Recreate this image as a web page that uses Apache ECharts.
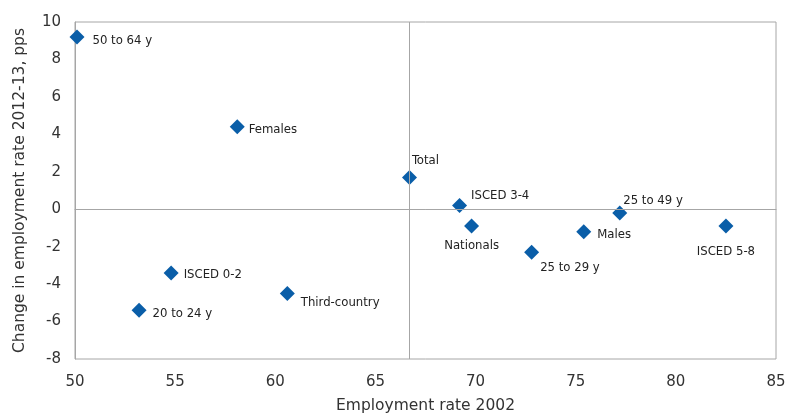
<!DOCTYPE html>
<html>
<head>
<meta charset="utf-8">
<script src="https://cdn.jsdelivr.net/npm/echarts@6/dist/echarts.min.js"></script>
<style>
  html, body { margin: 0; padding: 0; background: #fff; }
  #main { width: 787px; height: 414px; }
</style>
</head>
<body>
<div id="main"></div>
<script>
// groups and their values
var names = ['50 to 64 y', 'Females', 'Total', 'ISCED 3-4', 'Nationals', '25 to 29 y',
             'Males', '25 to 49 y', 'ISCED 5-8', 'ISCED 0-2', '20 to 24 y', 'Third-country'];
var rate2002 = [50.1, 58.1, 66.7, 69.2, 69.8, 72.8, 75.4, 77.2, 82.5, 54.8, 53.2, 60.6];
var change = [9.2, 4.4, 1.7, 0.2, -0.9, -2.3, -1.2, -0.2, -0.9, -3.4, -5.4, -4.5];
var xTicks = [50, 55, 60, 65, 70, 75, 80, 85];
var yTicks = [-8, -6, -4, -2, 0, 2, 4, 6, 8, 10];
var crossX = 66.7;
var crossY = 0;

// where each label sits relative to its marker
var labelPlace = {
  '50 to 64 y': { position: 'right', offset: [3, 4] },
  'Females': { position: 'right', offset: [-1, 3] },
  'Total': { position: 'top', offset: [16, 2] },
  'ISCED 3-4': { position: 'right', offset: [-1, -10] },
  'Nationals': { position: 'bottom', offset: [0, 1] },
  '25 to 29 y': { position: 'right', offset: [-4, 15] },
  'Males': { position: 'right', offset: [1, 3] },
  '25 to 49 y': { position: 'right', offset: [-9, -12] },
  'ISCED 5-8': { position: 'bottom', offset: [0, 7] },
  'ISCED 0-2': { position: 'right', offset: [0, 2] },
  '20 to 24 y': { position: 'right', offset: [1, 3] },
  'Third-country': { position: 'right', offset: [1, 9] }
};

var points = names.map(function (n, i) {
  return {
    name: n,
    value: [rate2002[i], change[i]],
    label: labelPlace[n]
  };
});

var chart = echarts.init(document.getElementById('main'));
var font = 'Liberation Sans Narrow, DejaVu Sans Condensed, Arial Narrow, sans-serif';
var option = {
  animation: false,
  grid: {
    left: 75, right: 11, top: 22, bottom: 55,
    outerBoundsMode: 'none',
    containLabel: false,
    show: true, borderColor: '#a6a6a6', borderWidth: 1
  },
  xAxis: {
    type: 'value',
    min: xTicks[0], max: xTicks[xTicks.length - 1], interval: 5,
    name: 'Employment rate 2002',
    nameLocation: 'middle', nameGap: 39,
    nameTextStyle: { fontFamily: 'DejaVu Sans', fontSize: 15.5, color: '#333' },
    axisLine: { show: true, lineStyle: { color: '#a6a6a6' } },
    axisTick: { show: false },
    splitLine: { show: false },
    axisLabel: { fontFamily: 'DejaVu Sans', fontSize: 15, color: '#333', margin: 16 }
  },
  yAxis: {
    type: 'value',
    min: yTicks[0], max: yTicks[yTicks.length - 1], interval: 2,
    name: 'Change in employment rate 2012-13, pps',
    nameLocation: 'middle', nameGap: 47,
    nameTextStyle: { fontFamily: 'DejaVu Sans', fontSize: 15.5, color: '#333' },
    axisLine: { show: true, lineStyle: { color: '#a6a6a6' } },
    axisTick: { show: false },
    splitLine: { show: false },
    axisLabel: { fontFamily: 'DejaVu Sans', fontSize: 15, color: '#333', margin: 14 }
  },
  series: [{
    type: 'scatter',
    symbol: 'diamond',
    symbolSize: 15,
    itemStyle: { color: '#0a5ea8', opacity: 1 },
    label: {
      show: true,
      formatter: '{b}',
      fontFamily: font,
      fontSize: 13,
      color: '#222'
    },
    data: points,
    markLine: {
      silent: true,
      symbol: 'none',
      label: { show: false },
      lineStyle: { color: '#a6a6a6', width: 1, type: 'solid' },
      data: [{ xAxis: crossX }, { yAxis: crossY }]
    },
    z: 3
  }]
};
chart.setOption(option);
</script>
</body>
</html>
